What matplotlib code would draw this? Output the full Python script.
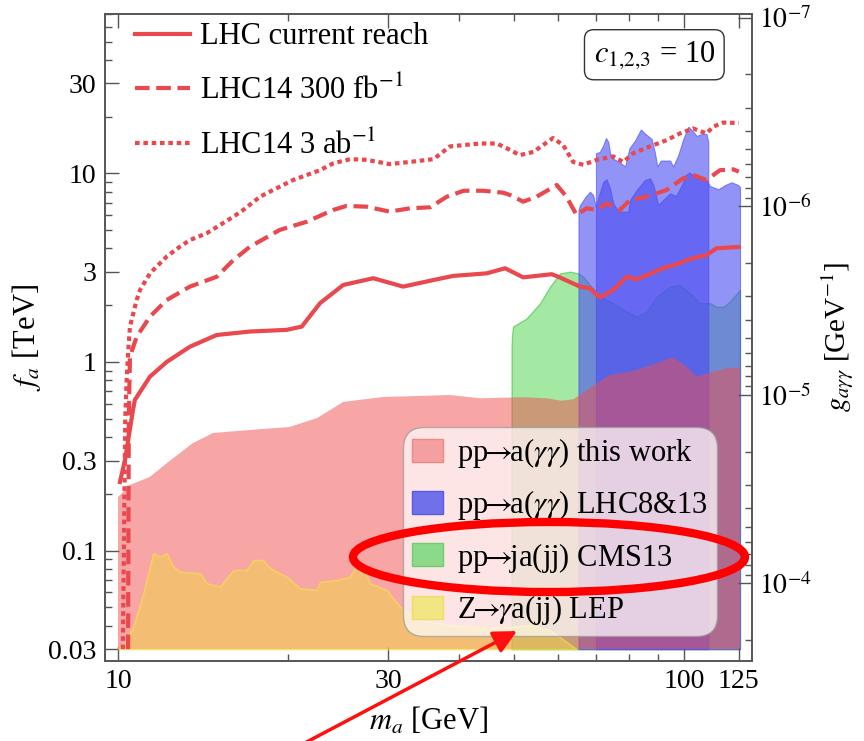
import numpy as np
import matplotlib
matplotlib.use('Agg')
import matplotlib.pyplot as plt
from matplotlib.patches import Patch, Ellipse, FancyArrowPatch
from matplotlib.ticker import NullFormatter, LogLocator

plt.rcParams['font.family'] = ['Liberation Serif', 'DejaVu Serif']
plt.rcParams['mathtext.fontset'] = 'stix'

# LHC reach curves: m_a [GeV] vs f_a [TeV]
solid_m = [10.08, 10.29, 10.63, 10.71, 11.39, 12.19, 13.40, 14.94, 17.10, 19.86, 21.12, 22.75,
           25.0, 28.25, 31.9, 36.1, 39.1, 44.8, 48.3, 52.0, 58.4, 60.0, 65.5, 68.2, 71.0, 75.0,
           79.2, 82.5, 91.9, 98.4, 102.5, 109.6, 114.2, 125.0]
solid_f = [0.231, 0.302, 0.556, 0.629, 0.836, 1.00, 1.205, 1.39, 1.45, 1.48, 1.54, 2.05,
           2.56, 2.78, 2.51, 2.72, 2.86, 2.95, 3.14, 2.81, 2.92, 2.83, 2.51, 2.46, 2.20, 2.41,
           2.83, 2.74, 3.14, 3.34, 3.52, 3.69, 4.01, 4.07]

dashed_m = [10.42, 10.45, 10.50, 10.79, 11.39, 12.19, 13.40, 14.94, 15.99, 17.10, 19.3, 21.55,
            24.0, 25.33, 27.5, 30.2, 32.8, 35.6, 38.1, 40.8, 44.2, 47.9, 49.3, 52.0, 54.9, 59.6,
            62.0, 64.6, 67.3, 70.1, 73.0, 77.1, 80.3, 85.9, 93.2, 99.7, 103.8, 109.6, 115.8,
            122.3, 125.0]
dashed_f = [0.03, 0.5, 1.07, 1.36, 1.74, 2.13, 2.51, 2.83, 3.47, 4.08, 5.01, 5.54,
            6.40, 6.72, 6.66, 6.27, 6.53, 6.61, 7.52, 8.09, 8.09, 7.90, 7.68, 7.08, 7.52, 8.68,
            7.52, 6.02, 6.53, 6.40, 6.94, 6.40, 7.23, 7.52, 8.17, 9.42, 9.80, 9.23, 10.4,
            10.5, 10.2]

dotted_m = [10.20, 10.30, 10.36, 10.43, 10.50, 10.79, 10.94, 11.39, 11.70, 12.19, 12.87, 13.40,
            14.34, 15.99, 16.65, 17.82, 18.81, 20.40, 22.75, 24.0, 25.7, 27.5, 30.2, 32.8,
            36.1, 38.6, 43.6, 46.7, 48.6, 51.3, 54.2, 58.7, 61.2, 63.7, 66.4, 70.1, 75.0,
            78.1, 81.4, 87.1, 93.2, 98.4, 103.8, 109.6, 112.7, 117.3, 125.0]
dotted_f = [0.03, 0.5, 0.80, 1.16, 1.54, 2.13, 2.41, 2.95, 3.20, 3.62, 4.09, 4.43,
            4.81, 5.89, 6.40, 7.52, 8.17, 9.23, 10.4, 11.3, 11.9, 11.8, 11.2, 11.5,
            11.9, 13.9, 14.4, 14.4, 13.6, 12.5, 13.0, 15.4, 14.1, 11.5, 11.1, 11.8, 12.3,
            11.5, 12.8, 13.9, 15.0, 16.3, 17.3, 16.3, 17.7, 18.6, 18.5]

# excluded regions (upper edge in f_a, filled down to 0.03 TeV)
pink_m = [10.0, 10.50, 11.39, 12.2, 13.57, 14.72, 17.10, 20.1, 22.5, 25.0, 29.4, 38.6, 43.6,
          52.0, 57.2, 60.8, 63.7, 65.5, 70.1, 74.0, 80.3, 85.9, 95.7, 101.1, 105.3, 112.7,
          119.0, 125.6]
pink_f = [0.192, 0.223, 0.246, 0.291, 0.372, 0.42, 0.436, 0.452, 0.505, 0.614, 0.652, 0.668,
          0.642, 0.650, 0.642, 0.623, 0.634, 0.668, 0.771, 0.853, 0.888, 0.944, 1.059, 0.944,
          0.836, 0.888, 0.926, 0.937]

green_m = [49.6, 49.7, 49.9, 52.7, 55.7, 58.0, 60.4, 62.9, 65.1, 66.4, 68.2, 71.0, 75.0, 79.2,
           82.5, 85.9, 89.5, 94.5, 98.4, 102.5, 106.7, 111.1, 114.2, 117.3, 120.6, 125.6]
green_f = [1.2, 1.39, 1.54, 1.70, 2.05, 2.51, 2.95, 3.01, 2.95, 2.83, 2.56, 2.22, 2.05, 1.85,
           1.74, 1.85, 2.22, 2.51, 2.56, 2.31, 2.05, 2.05, 1.96, 1.96, 2.09, 2.41]

lhc8_m = [65.1, 65.5, 66.9, 68.2, 69.1, 69.9, 70.8, 72.0, 73.0, 74.0, 75.0, 76.6, 79.7, 80.3,
          82.5, 85.3, 87.1, 88.3, 90.1, 91.9, 94.5, 96.8, 99.1, 100.8, 102.2, 103.8, 106.0,
          109.6, 111.1, 115.0, 118.2, 121.4, 124.7, 125.6]
lhc8_f = [6.40, 6.80, 7.47, 8.0, 7.68, 6.66, 7.68, 9.03, 9.30, 8.34, 6.94, 6.27, 6.27, 7.23,
          8.17, 9.23, 9.42, 8.68, 6.80, 7.23, 7.84, 7.59, 8.68, 9.80, 10.1, 9.80, 9.42,
          9.23, 8.58, 8.24, 8.68, 8.97, 8.68, 8.44]

lhc13_m = [69.9, 71.0, 72.0, 72.8, 73.5, 74.2, 75.2, 77.1, 78.7, 80.1, 81.9, 83.9, 85.3, 87.7,
           88.9, 89.7, 91.0, 94.5, 95.7, 97.7, 99.7, 101.8, 103.6, 105.3, 107.5, 109.6, 110.4]
lhc13_f = [12.8, 13.0, 14.1, 15.4, 14.7, 12.3, 11.9, 11.4, 10.9, 13.6, 14.9, 17.1, 16.3, 15.2,
           12.8, 10.9, 11.7, 11.7, 10.9, 12.5, 15.2, 17.7, 16.8, 15.8, 16.2, 16.2, 14.7]

lep_m = [10.01, 10.29, 10.64, 11.08, 11.39, 11.54, 11.87, 12.19, 12.52, 12.87, 13.96, 14.34,
         15.14, 15.99, 16.88, 17.34, 18.05, 18.31, 18.81, 19.86, 20.97, 22.44, 22.75, 24.0,
         25.7, 26.41, 27.13, 27.87, 29.83, 31.5, 33.7, 38.6, 47.3, 53.5, 58.0, 64.6]
lep_f = [0.0303, 0.0323, 0.0395, 0.0594, 0.0822, 0.0968, 0.0928, 0.0968, 0.0822, 0.0773,
         0.0758, 0.0671, 0.0644, 0.0789, 0.0789, 0.0891, 0.0891, 0.0839, 0.0789, 0.0727,
         0.0631, 0.0618, 0.0684, 0.0692, 0.0727, 0.0839, 0.0822, 0.0671, 0.0618, 0.0504,
         0.0429, 0.0403, 0.0389, 0.0403, 0.0379, 0.030]

line_labels = ['LHC current reach', r'LHC14 300 fb$^{-1}$', r'LHC14 3 ab$^{-1}$']
region_labels = [r'pp$\!\!\rightarrow\!\!$a($\gamma\gamma$) this work',
                 r'pp$\!\!\rightarrow\!\!$a($\gamma\gamma$) LHC8&13',
                 r'pp$\!\!\rightarrow\!\!$ja(jj) CMS13',
                 r'Z$\!\!\rightarrow\!\!\gamma$a(jj) LEP']

x_ticks = [10, 30, 100, 125]
x_minor = [20, 40, 50, 60, 70, 80, 90]
y_ticks = [0.03, 0.1, 0.3, 1, 3, 10, 30]
y_tick_labels = ['0.03', '0.1', '0.3', '1', '3', '10', '30']
g_ticks = [1e-7, 1e-6, 1e-5, 1e-4]
g_tick_labels = [r'$10^{-7}$', r'$10^{-6}$', r'$10^{-5}$', r'$10^{-4}$']

G_CONV = 6.7e-6     # g_agg [GeV^-1] = G_CONV / f_a [TeV]
F_FLOOR = 0.03
F_LIM = (0.02607, 70.0)

RED = '#e8484e'
PINK = '#f24c4c'
BLUE = '#4a4cf2'
GREEN = '#66d966'
YELLOW = '#f0d24a'
SPINE = '#555555'

fig = plt.figure(figsize=(8.64, 7.41), dpi=100)
ax = fig.add_axes([0.1215, 0.1084, 0.7489, 0.8727])
ax.set_xscale('log')
ax.set_yscale('log')
ax.set_xlim(9.485, 131.9)
ax.set_ylim(*F_LIM)

ax.fill_between(green_m, F_FLOOR, green_f, facecolor=GREEN, edgecolor='#3fc43f',
                alpha=0.6, lw=1.0, zorder=1)
ax.fill_between(lhc8_m, F_FLOOR, lhc8_f, facecolor=BLUE, edgecolor=BLUE,
                alpha=0.6, lw=0.8, zorder=2)
ax.fill_between(lhc13_m, F_FLOOR, lhc13_f, facecolor=BLUE, edgecolor=BLUE,
                alpha=0.6, lw=0.8, zorder=2)
ax.fill_between(pink_m, F_FLOOR, pink_f, facecolor=PINK, edgecolor='none',
                alpha=0.5, zorder=3)
ax.fill_between(lep_m, F_FLOOR, lep_f, facecolor=YELLOW, edgecolor='#f7e64a',
                alpha=0.55, lw=1.2, zorder=4)

l1, = ax.plot(solid_m, solid_f, color=RED, lw=3, zorder=5)
l2, = ax.plot(dashed_m, dashed_f, color=RED, lw=3, dashes=(3.5, 1.6), zorder=5)
l3, = ax.plot(dotted_m, dotted_f, color=RED, lw=3, dashes=(1.1, 0.9), zorder=5)

ax.set_xticks(x_ticks)
ax.set_xticklabels([str(t) for t in x_ticks])
ax.set_xticks(x_minor, minor=True)
ax.xaxis.set_minor_formatter(NullFormatter())
ax.set_yticks(y_ticks)
ax.set_yticklabels(y_tick_labels)
ax.yaxis.set_minor_locator(LogLocator(subs=np.arange(2, 10)))
ax.yaxis.set_minor_formatter(NullFormatter())
ax.tick_params(which='both', direction='in', top=True, right=False, color=SPINE,
               labelsize=20, pad=6)
ax.tick_params(which='major', length=10, width=1)
ax.tick_params(which='minor', length=5, width=1)
for s in ax.spines.values():
    s.set_color(SPINE)
    s.set_linewidth(1.2)

ax.set_xlabel(r'$m_a$ [GeV]', fontsize=22, labelpad=8)
ax.set_ylabel(r'$f_a$ [TeV]', fontsize=22, labelpad=4)

# coupling axis on the right
ax2 = ax.twinx()
ax2.set_yscale('log')
ax2.set_ylim(G_CONV / F_LIM[0], G_CONV / F_LIM[1])
ax2.set_yticks(g_ticks)
ax2.set_yticklabels(g_tick_labels)
ax2.yaxis.set_minor_locator(LogLocator(subs=np.arange(2, 10)))
ax2.yaxis.set_minor_formatter(NullFormatter())
ax2.tick_params(which='both', direction='in', color=SPINE, labelsize=20, pad=5)
ax2.tick_params(which='major', length=10, width=1)
ax2.tick_params(which='minor', length=5, width=1)
for s in ax2.spines.values():
    s.set_color(SPINE)
    s.set_linewidth(1.2)
ax2.set_ylabel(r'$g_{a\gamma\gamma}$ [GeV$^{-1}$]', fontsize=21, labelpad=6)

leg1 = ax.legend([l1, l2, l3], line_labels, loc='upper left', bbox_to_anchor=(0.046, 0.987),
                 frameon=False, fontsize=22, handlelength=1.8, handletextpad=0.35,
                 labelspacing=0.8, borderpad=0, borderaxespad=0)
ax.add_artist(leg1)

region_handles = [Patch(facecolor='#f5a0a0', edgecolor='#ee8888'),
                  Patch(facecolor='#7070ea', edgecolor='#5a5ae0'),
                  Patch(facecolor='#8cd98c', edgecolor='#70cc70'),
                  Patch(facecolor='#f2e684', edgecolor='#eedc66')]
leg2 = ax.legend(region_handles, region_labels, loc='lower left',
                 bbox_to_anchor=(0.4606, 0.0381), borderaxespad=0, fontsize=22,
                 handlelength=1.0, handleheight=0.78, handletextpad=0.48,
                 labelspacing=0.6, borderpad=0.3, fancybox=True, framealpha=0.72,
                 facecolor='white', edgecolor='#9a9a9a')
leg2.get_frame().set_boxstyle('round', pad=0, rounding_size=0.7)
leg2.set_zorder(10)

ax.text(0.849, 0.937, r'$c_{1{,}2{,}3}$ = 10', transform=ax.transAxes, fontsize=22,
        ha='center', va='center', zorder=10,
        bbox=dict(boxstyle='round,pad=0.3,rounding_size=0.3', fc='white', ec='#333333', lw=1))

# highlight around the CMS13 entry and pointer from below
fig.add_artist(Ellipse((0.6354, 0.2483), 0.4537, 0.0945, transform=fig.transFigure,
                       fill=False, edgecolor='#ff0000', lw=6))
fig.add_artist(FancyArrowPatch((0.349, -0.005), (0.5984, 0.1484), transform=fig.transFigure,
                               arrowstyle='-|>,head_length=0.7,head_width=0.35',
                               mutation_scale=20, color='#ff1010', lw=2.5,
                               shrinkA=0, shrinkB=0))

fig.savefig('out.png', dpi=100)
